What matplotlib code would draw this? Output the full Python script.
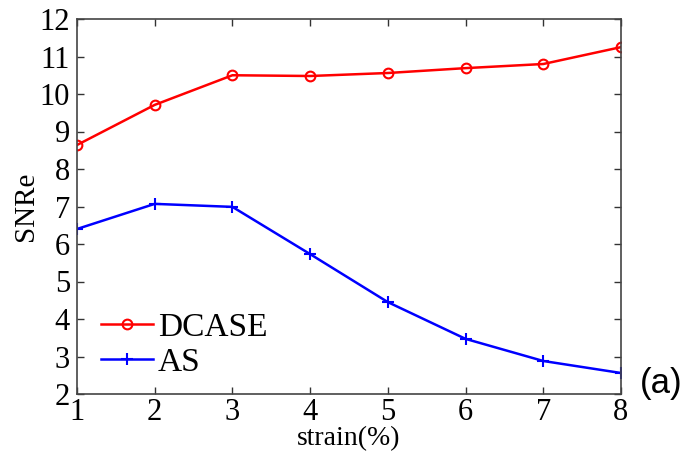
import matplotlib.pyplot as plt

# strain values and SNRe for both methods
strain = [1, 2, 3, 4, 5, 6, 7, 8]
snre_dcase = [8.64, 9.71, 10.5, 10.48, 10.56, 10.69, 10.8, 11.25]
snre_as = [6.4, 7.07, 6.99, 5.73, 4.45, 3.47, 2.88, 2.56]
yticks = [2, 3, 4, 5, 6, 7, 8, 9, 10, 11, 12]

plt.rcParams['font.family'] = ['Liberation Serif', 'DejaVu Serif']

fig = plt.figure(figsize=(6.88, 4.53), dpi=100)
ax = fig.add_axes([77 / 688, 1 - 394 / 453, (621 - 77) / 688, (394 - 19) / 453])

ax.plot(strain, snre_dcase, color='red', linewidth=1.8, marker='o',
        markersize=7, markerfacecolor='none', markeredgewidth=1.5, label='DCASE')
ax.plot(strain, snre_as, color='blue', linewidth=1.8, marker='+',
        markersize=9, markeredgewidth=1.5, label='AS')

ax.set_xlim(1, 8)
ax.set_ylim(2, 12)
ax.set_xticks(strain)
ax.set_yticks(yticks)
ax.tick_params(direction='in', top=True, right=True, labelsize=22,
               length=5, width=1, colors='#333333', labelcolor='black')
ax.tick_params(axis='x', pad=3)
ax.tick_params(axis='y', pad=5)
for s in ax.spines.values():
    s.set_color('#444444')
    s.set_linewidth(1.2)

ax.set_xlabel('strain(%)', fontsize=20, va='center')
ax.xaxis.set_label_coords(0.5, -(439 - 394) / 375)
ax.set_ylabel('SNRe', fontsize=21, va='center')
ax.yaxis.set_label_coords(-(77 - 26) / 544, 0.5)

ax.legend(loc='center left', bbox_to_anchor=(24 / 544, (394 - 345) / 375),
          frameon=False, fontsize=24, handlelength=1.55, handletextpad=0.15,
          labelspacing=0.15, borderaxespad=0, borderpad=0)

fig.text(640 / 688, 1 - 383 / 453, '(a)', fontsize=25, family='Liberation Sans',
         va='center', ha='left')

fig.savefig('out.png', dpi=100)
